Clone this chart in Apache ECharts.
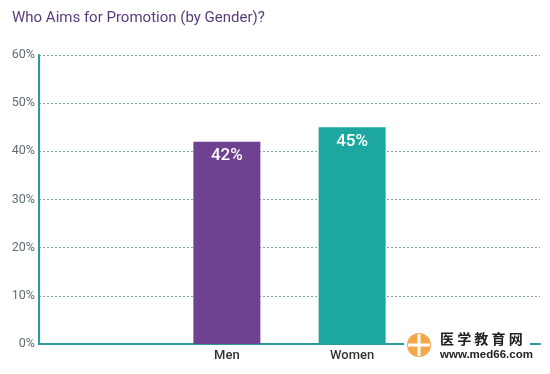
<!DOCTYPE html>
<html><head><meta charset="utf-8">
<script src="https://cdn.jsdelivr.net/npm/echarts@6/dist/echarts.min.js"></script>
<style>html,body{margin:0;padding:0;background:#fff}#c{width:550px;height:374px}</style>
</head><body><div id="c"></div>
<script>
const titleText = 'Who Aims for Promotion (by Gender)?';
const categories = ['', 'Men', 'Women', ''];
const values = [null, 42, 45, null];
const barColors = ['#6e4290', '#6e4290', '#1ca8a0', '#1ca8a0'];
const yTicks = [0, 10, 20, 30, 40, 50, 60];

const chart = echarts.init(document.getElementById('c'), null, {renderer: 'canvas'});
chart.setOption({
  backgroundColor: '#ffffff',
  animation: false,
  title: {
    text: titleText, left: 7, top: 6,
    textStyle: {fontFamily: 'Roboto', fontWeight: 'normal', fontSize: 15, color: '#5a3d78'}
  },
  grid: {left: 39, right: 10, top: 55, bottom: 30},
  xAxis: {
    type: 'category', data: categories,
    axisLine: {lineStyle: {color: '#2b9a9c', width: 2}},
    axisTick: {show: false},
    axisLabel: {fontFamily: 'Roboto', fontSize: 13, color: '#333', margin: 5, fontWeight: 500}
  },
  yAxis: {
    type: 'value', min: yTicks[0], max: yTicks[yTicks.length - 1], interval: 10,
    axisLine: {show: true, lineStyle: {color: '#2b9a9c', width: 2}},
    axisTick: {show: false},
    axisLabel: {formatter: '{value}%', fontFamily: 'Roboto', fontSize: 12.5, color: '#5e6f74', margin: 4},
    splitLine: {lineStyle: {type: [2, 2], color: '#7fa6aa', width: 1}}
  },
  series: [{
    type: 'bar', barWidth: 67,
    data: values.map((v, i) => ({value: v, itemStyle: {color: barColors[i]}})),
    label: {
      show: true, position: 'insideTop', distance: 6,
      formatter: '{c}%', color: '#fff', fontFamily: 'Roboto', fontSize: 17, fontWeight: 500
    }
  }],
  graphic: [
    {type: 'rect', shape: {x: 404, y: 330, width: 126, height: 30}, style: {fill: '#fff'}, z: 100},
    {type: 'circle', shape: {cx: 419, cy: 345, r: 12}, style: {fill: '#f5a74a'}, z: 101},
    {type: 'rect', shape: {x: 417.5, y: 334, width: 3, height: 22}, style: {fill: '#fff'}, z: 102},
    {type: 'rect', shape: {x: 408, y: 343.5, width: 22, height: 3}, style: {fill: '#fff'}, z: 102},
    {type: 'text', left: 440, top: 332, z: 103,
      style: {text: '医 学 教 育 网', fontFamily: 'Noto Sans CJK SC', fontWeight: 'bold', fontSize: 14, fill: '#222'}},
    {type: 'text', left: 440, top: 349, z: 103,
      style: {text: 'www.med66.com', fontFamily: 'Liberation Sans', fontWeight: 'bold', fontSize: 11.5, fill: '#222'}}
  ]
});
</script></body></html>
